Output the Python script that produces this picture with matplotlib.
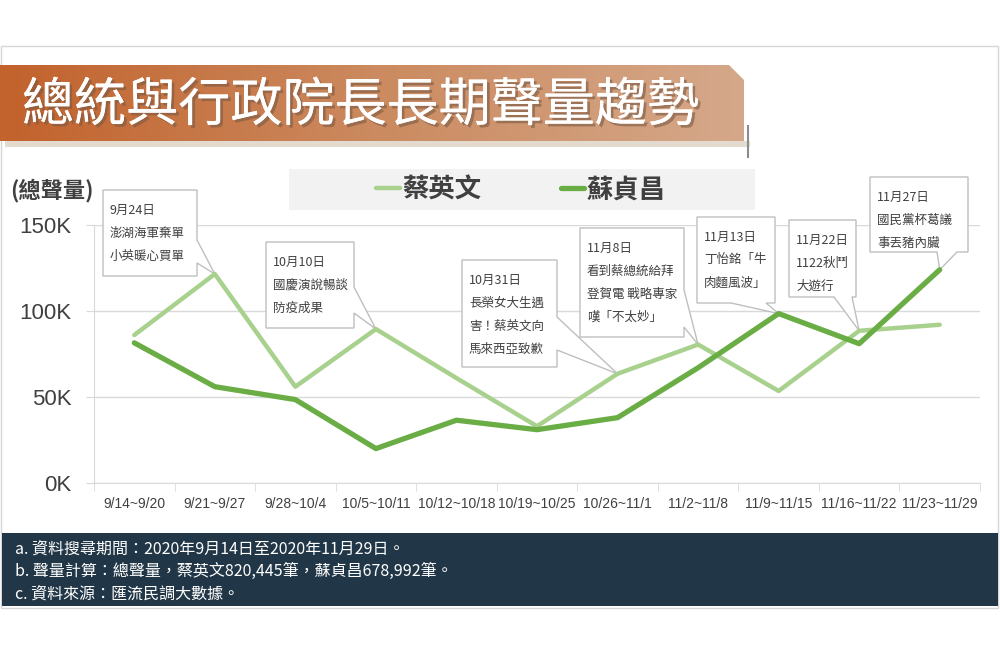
import numpy as np
import matplotlib.pyplot as plt
import matplotlib.patheffects as pe
from matplotlib.patches import Rectangle, Polygon
from matplotlib.colors import LinearSegmentedColormap
from matplotlib.transforms import Affine2D

plt.rcParams['font.family'] = ['Noto Sans CJK TC', 'DejaVu Sans']

# data
weeks = ['9/14~9/20', '9/21~9/27', '9/28~10/4', '10/5~10/11', '10/12~10/18', '10/19~10/25',
         '10/26~11/1', '11/2~11/8', '11/9~11/15', '11/16~11/22', '11/23~11/29']
tsai = [86000, 121500, 56000, 89500, 61000, 33000, 63500, 80500, 53500, 88500, 92000]
su = [81500, 56000, 48500, 20000, 36500, 31000, 38000, 67000, 98500, 81000, 124000]
names = ['蔡英文', '蘇貞昌']
yticks = [0, 50000, 100000, 150000]
ytick_labels = ['0K', '50K', '100K', '150K']

notes = [
    ('tsai', 1, ['9月24日', '澎湖海軍棄單', '小英暖心買單']),
    ('tsai', 3, ['10月10日', '國慶演說暢談', '防疫成果']),
    ('tsai', 6, ['10月31日', '長榮女大生遇', '害！蔡英文向', '馬來西亞致歉']),
    ('tsai', 7, ['11月8日', '看到蔡總統給拜', '登賀電 戰略專家', '嘆「不太妙」']),
    ('su', 8, ['11月13日', '丁怡銘「牛', '肉麵風波」']),
    ('tsai', 9, ['11月22日', '1122秋鬥', '大遊行']),
    ('su', 10, ['11月27日', '國民黨杯葛議', '事丟豬內臟']),
]
footer = ['a. 資料搜尋期間：2020年9月14日至2020年11月29日。',
          'b. 聲量計算：總聲量，蔡英文820,445筆，蘇貞昌678,992筆。',
          'c. 資料來源：匯流民調大數據。']

# box layout in pixels: left, top, right, bottom, wedge side, wedge start, wedge end
boxes = [
    (103, 190, 197, 276, 'r', 240, 263),
    (266, 242, 354, 328, 'r', 287, 313),
    (462, 260, 557, 367, 'r', 317, 350),
    (580, 228, 684, 337, 'r', 290, 327),
    (697, 217, 775, 303, 'b', 731, 766),
    (789, 220, 856, 297, 'b', 834, 852),
    (870, 177, 968, 252, 'b', 937, 957),
]

W, H = 1000, 667
light = '#A9D18E'
dark = '#6AAD45'
txt = '#404040'
grid_c = '#D9D9D9'

fig = plt.figure(figsize=(W / 100, H / 100), dpi=100)
px = Affine2D().scale(1 / W, -1 / H).translate(0, 1) + fig.transFigure

# background / decorations in pixel coords
bg = fig.add_axes([0, 0, 1, 1], zorder=0)
bg.set_xlim(0, W)
bg.set_ylim(H, 0)
bg.axis('off')

bg.add_patch(Rectangle((1, 46), 997, 562, facecolor='white', edgecolor='#D6D6D6', lw=1))

# title banner with gradient
banner = Polygon([(0, 65), (729, 65), (744, 80), (744, 141), (0, 141)], closed=True,
                 facecolor='none', edgecolor='none')
bg.add_patch(banner)
grad = np.linspace(0, 1, 256).reshape(1, -1)
cmap = LinearSegmentedColormap.from_list('banner', ['#C2622C', '#CB8A5F', '#D5A88A'])
im = bg.imshow(grad, cmap=cmap, extent=(0, 744, 141, 65), aspect='auto', zorder=1)
im.set_clip_path(banner)
bg.add_patch(Rectangle((5, 141), 745, 6, facecolor='#E4DBD0', edgecolor='none', zorder=1))
bg.plot([748, 748], [126, 157], color='#8C8C8C', lw=1.5, zorder=2)
bg.text(22, 106, '總統與行政院長長期聲量趨勢', fontsize=37.5, color='white', va='center', ha='left',
        zorder=3, path_effects=[pe.withSimplePatchShadow(offset=(2, -2), shadow_rgbFace='#7A5A45', alpha=0.6),
                                pe.Normal()])

# legend background and y-unit label
bg.add_patch(Rectangle((289, 169), 466, 41, facecolor='#F2F2F2', edgecolor='none', zorder=1))
bg.text(10, 191, '(總聲量)', fontsize=16, fontweight='bold', color=txt, va='center', ha='left')

# footer band
bg.add_patch(Rectangle((2, 533), 996, 73, facecolor='#213747', edgecolor='none', zorder=1))
for k, line in enumerate(footer):
    bg.text(15, 549 + k * 22.5, line, fontsize=11.5, color='white', va='center', ha='left', zorder=2)

# main chart
ax = fig.add_axes([94 / W, (H - 483) / H, 886 / W, 258 / H], zorder=1)
ax.patch.set_alpha(0)
x = np.arange(len(weeks))
l1, = ax.plot(x, tsai, color=light, lw=3.2, solid_capstyle='round', zorder=3)
l2, = ax.plot(x, su, color=dark, lw=3.8, solid_capstyle='round', zorder=4)
ax.set_xlim(-0.5, len(weeks) - 0.5)
ax.set_ylim(0, 150000)
ax.set_yticks(yticks)
ax.set_yticklabels(ytick_labels)
ax.set_xticks(x)
ax.set_xticklabels(weeks)
ax.set_xticks(np.arange(len(weeks) + 1) - 0.5, minor=True)
ax.grid(axis='y', color=grid_c, lw=1)
ax.set_axisbelow(True)
for s in ['top', 'right']:
    ax.spines[s].set_visible(False)
for s in ['left', 'bottom']:
    ax.spines[s].set_color(grid_c)
ax.tick_params(axis='y', length=6, color=grid_c, pad=10, labelsize=16, labelcolor=txt)
ax.tick_params(axis='x', which='major', length=0, pad=10, labelsize=10, labelcolor=txt)
ax.tick_params(axis='x', which='minor', length=6, color=grid_c)
narrow = ['Liberation Sans Narrow', 'Liberation Sans', 'DejaVu Sans']
for t in ax.get_yticklabels():
    t.set_family(narrow)
for t in ax.get_xticklabels():
    t.set_family(narrow)

fig.legend(handles=[l1, l2], labels=names, loc='center', bbox_to_anchor=(521 / W, 1 - 190 / H),
           ncol=2, frameon=False, prop={'size': 19, 'weight': 'bold'}, labelcolor=txt,
           handlelength=0.9, handletextpad=0.1, columnspacing=3.0)

# callouts
series = {'tsai': tsai, 'su': su}
inv = px.inverted()
for (key, idx, lines), (l, t, r, b, side, w0, w1) in zip(notes, boxes):
    tip = inv.transform(ax.transData.transform((x[idx], series[key][idx])))
    tip = (tip[0], tip[1])
    if side == 'r':
        verts = [(l, t), (r, t), (r, w0), tip, (r, w1), (r, b), (l, b)]
    else:
        verts = [(l, t), (r, t), (r, b), (w1, b), tip, (w0, b), (l, b)]
    ax.add_patch(Polygon(verts, closed=True, facecolor='white', edgecolor='#BFBFBF', lw=1,
                         transform=px, clip_on=False, zorder=2))
    for k, s in enumerate(lines):
        ax.text(l + 7, t + 20 + k * 23, s, fontsize=9, color=txt, va='center', ha='left',
                transform=px, clip_on=False, zorder=2.5)

fig.savefig('out.png', dpi=100, facecolor='white')
